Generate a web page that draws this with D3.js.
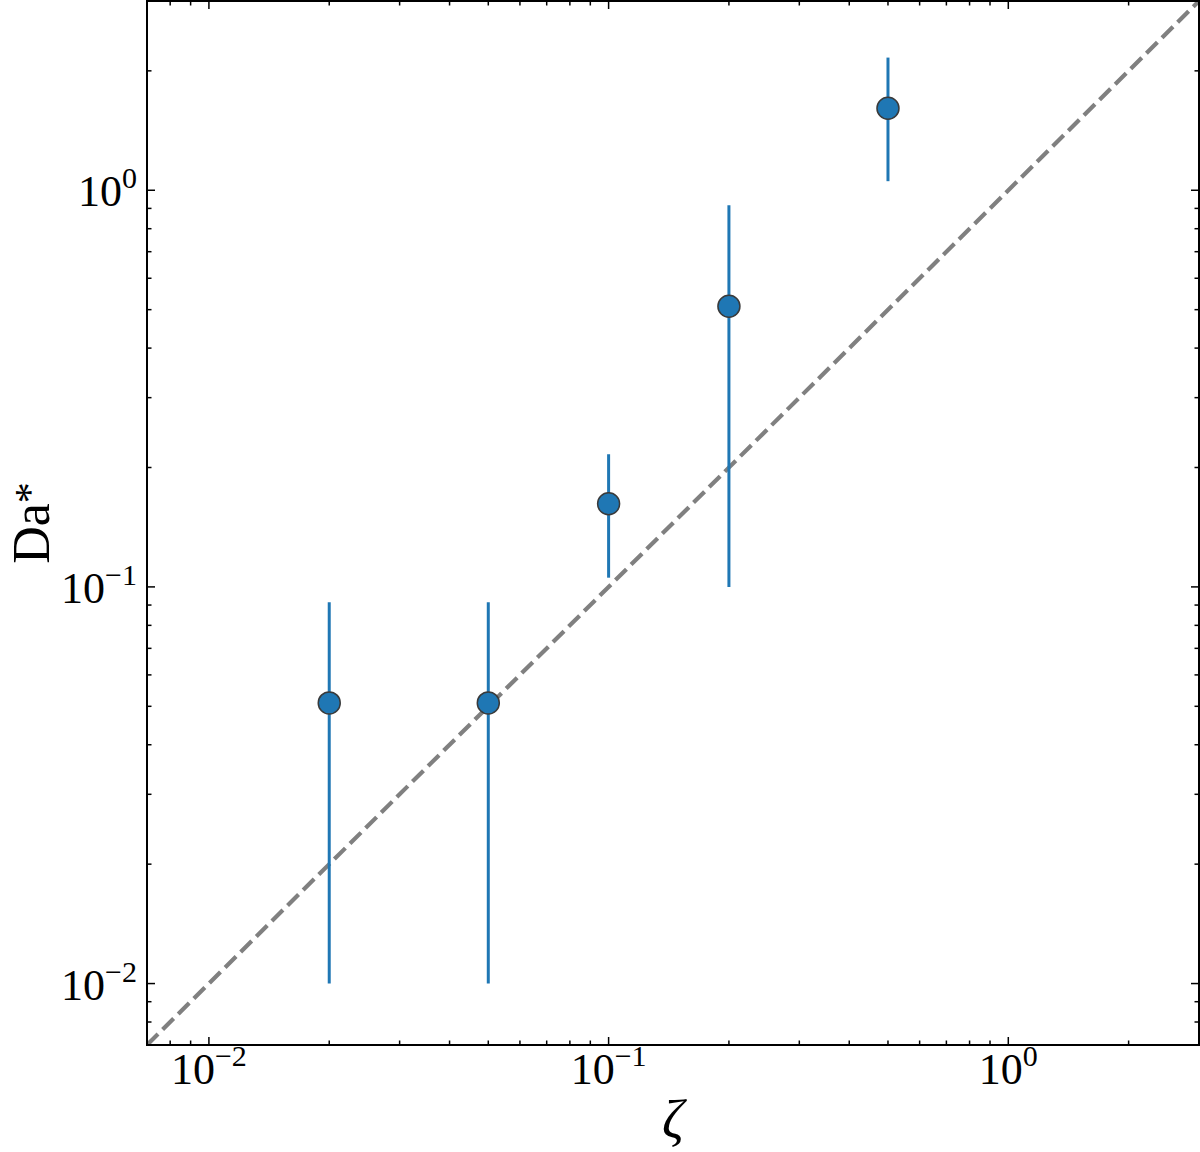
<!DOCTYPE html>
<html>
<head>
<meta charset="utf-8">
<script src="https://cdn.jsdelivr.net/npm/d3@7"></script>
<style>
    body { margin: 0; background: #fff; }
    svg { display: block; }
    .tickLabel, .axisLabel { font-family: "Liberation Serif", "DejaVu Serif", serif; fill: #000; }
</style>
</head>
<body>
<svg id="chart" width="1200" height="1152"></svg>
<script>
    // data
    var zetaValues = [0.02, 0.05, 0.1, 0.2, 0.5];
    var daValues   = [0.051, 0.051, 0.162, 0.51, 1.61];
    var errLow     = [0.01, 0.01, 0.1055, 0.1, 1.054];
    var errHigh    = [0.0915, 0.0915, 0.216, 0.916, 2.16];

    var axisLimits = [0.007, 3];
    var majorTicks = [0.01, 0.1, 1];
    var tickExponents = ["\u22122", "\u22121", "0"];

    const LEFT = 147, RIGHT = 1199, TOP = 1, BOTTOM = 1045;
    const MAJOR_LEN = 8, MINOR_LEN = 4.5;
    const BLUE = "#1f77b4";

    var svg = d3.select("#chart");

    var x = d3.scaleLog().domain(axisLimits).range([LEFT, RIGHT]);
    var y = d3.scaleLog().domain(axisLimits).range([BOTTOM, TOP]);

    // minor ticks 2..9 x each decade, inside the limits
    var minorTicks = [];
    [0.001, 0.01, 0.1, 1].forEach(function(dec) {
        for (var k = 2; k <= 9; k++) {
            var v = dec * k;
            if (v > axisLimits[0] && v < axisLimits[1]) minorTicks.push(v);
        }
    });

    svg.append("clipPath").attr("id", "plotClip")
        .append("rect")
            .attr("x", LEFT).attr("y", TOP)
            .attr("width", RIGHT - LEFT).attr("height", BOTTOM - TOP);

    // y = x reference line
    svg.append("line")
        .attr("clip-path", "url(#plotClip)")
        .attr("x1", x(axisLimits[0])).attr("y1", y(axisLimits[0]))
        .attr("x2", x(axisLimits[1])).attr("y2", y(axisLimits[1]))
        .attr("stroke", "#808080")
        .attr("stroke-width", 4.2)
        .attr("stroke-dasharray", "15.5,6.5");

    var pts = zetaValues.map(function(z, i) {
        return { zeta: z, da: daValues[i], lo: errLow[i], hi: errHigh[i] };
    });

    // error bars
    svg.append("g").selectAll("line")
        .data(pts)
        .enter().append("line")
            .attr("x1", function(d) { return x(d.zeta); })
            .attr("x2", function(d) { return x(d.zeta); })
            .attr("y1", function(d) { return y(d.lo); })
            .attr("y2", function(d) { return y(d.hi); })
            .attr("stroke", BLUE)
            .attr("stroke-width", 3);

    // markers
    svg.append("g").selectAll("circle")
        .data(pts)
        .enter().append("circle")
            .attr("cx", function(d) { return x(d.zeta); })
            .attr("cy", function(d) { return y(d.da); })
            .attr("r", 11)
            .attr("fill", BLUE)
            .attr("stroke", "#3a3a3a")
            .attr("stroke-width", 1.5);

    // ticks pointing inward on all four sides
    var tickGroup = svg.append("g").attr("stroke", "#000").attr("stroke-width", 1.5);
    function drawTicks(values, len)
    {
        values.forEach(function(v) {
            var px = x(v), py = y(v);
            tickGroup.append("line").attr("x1", px).attr("x2", px).attr("y1", BOTTOM).attr("y2", BOTTOM - len);
            tickGroup.append("line").attr("x1", px).attr("x2", px).attr("y1", TOP).attr("y2", TOP + len);
            tickGroup.append("line").attr("y1", py).attr("y2", py).attr("x1", LEFT).attr("x2", LEFT + len);
            tickGroup.append("line").attr("y1", py).attr("y2", py).attr("x1", RIGHT).attr("x2", RIGHT - len);
        });
    }
    drawTicks(majorTicks, MAJOR_LEN);
    drawTicks(minorTicks, MINOR_LEN);

    // frame
    svg.append("rect")
        .attr("x", LEFT).attr("y", TOP)
        .attr("width", RIGHT - LEFT).attr("height", BOTTOM - TOP)
        .attr("fill", "none")
        .attr("stroke", "#000")
        .attr("stroke-width", 2);

    // tick labels as 10^n
    function powerLabel(sel, exp)
    {
        sel.append("tspan").text("10");
        sel.append("tspan").attr("font-size", 30).attr("dy", -18).text(exp);
    }

    majorTicks.forEach(function(v, i) {
        var t = svg.append("text")
            .attr("class", "tickLabel")
            .attr("x", x(v))
            .attr("y", 1084)
            .attr("font-size", 44)
            .attr("text-anchor", "middle");
        powerLabel(t, tickExponents[i]);

        var ty = svg.append("text")
            .attr("class", "tickLabel")
            .attr("x", 137)
            .attr("y", y(v) + 16)
            .attr("font-size", 44)
            .attr("text-anchor", "end");
        powerLabel(ty, tickExponents[i]);
    });

    // axis labels
    svg.append("text")
        .attr("class", "axisLabel")
        .attr("x", (LEFT + RIGHT) / 2)
        .attr("y", 1138)
        .attr("font-size", 54)
        .attr("font-style", "italic")
        .attr("text-anchor", "middle")
        .text("\u03b6");

    // "*" already sits high in the font, so only a small raise is needed
    var yl = svg.append("text")
        .attr("class", "axisLabel")
        .attr("transform", "translate(49," + ((TOP + BOTTOM) / 2) + ") rotate(-90)")
        .attr("font-size", 52)
        .attr("text-anchor", "middle");
    yl.append("tspan").text("Da");
    yl.append("tspan").attr("font-size", 42).attr("dy", -5).text("*");
</script>
</body>
</html>
